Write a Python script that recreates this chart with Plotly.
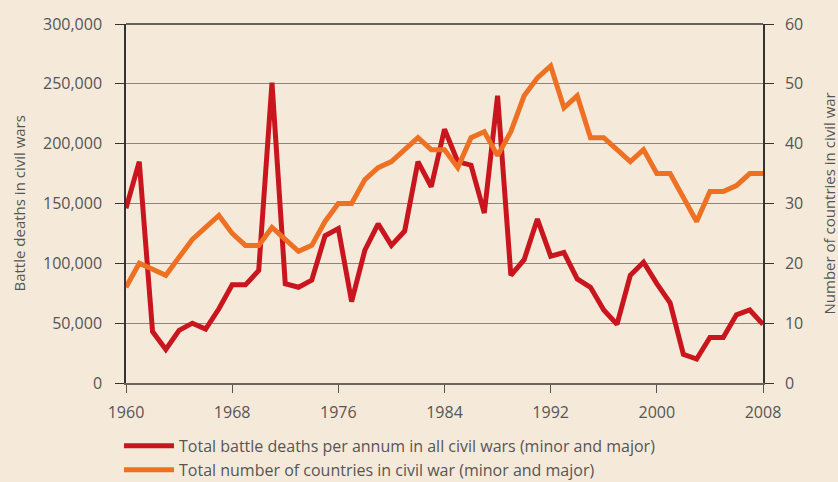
import plotly.graph_objects as go

years = list(range(1960, 2009))
battle_deaths = [146000, 185000, 43000, 28000, 44000, 50000, 45000, 62000, 82000, 82000,
                 94000, 251000, 83000, 80000, 86000, 123000, 129000, 68000, 111000, 133000,
                 115000, 127000, 185000, 164000, 212000, 185000, 182000, 142000, 240000, 90000,
                 103000, 137000, 106000, 109000, 87000, 80000, 61000, 49000, 90000, 101000,
                 83000, 67000, 24000, 20000, 38000, 38000, 57000, 61000, 49000]
countries = [16, 20, 19, 18, 21, 24, 26, 28, 25, 23,
             23, 26, 24, 22, 23, 27, 30, 30, 34, 36,
             37, 39, 41, 39, 39, 36, 41, 42, 38, 42,
             48, 51, 53, 46, 48, 41, 41, 39, 37, 39,
             35, 35, 31, 27, 32, 32, 33, 35, 35]
x_ticks = [1960, 1968, 1976, 1984, 1992, 2000, 2008]
left_ticks = [0, 50000, 100000, 150000, 200000, 250000, 300000]
right_ticks = [0, 10, 20, 30, 40, 50, 60]

name_red = "Total battle deaths per annum in all civil wars (minor and major)"
name_orange = "Total number of countries in civil war (minor and major)"
left_title = "Battle deaths in civil wars"
right_title = "Number of countries in civil war"

RED = "#C9161E"
ORANGE = "#EE7023"
BG = "#F5EADA"
TXT = "#555555"
FONT = "Open Sans"

fig = go.Figure()
fig.add_trace(go.Scatter(x=years, y=countries, yaxis="y2", mode="lines",
                         line=dict(color=ORANGE, width=5), name=name_orange,
                         legendrank=2))
fig.add_trace(go.Scatter(x=years, y=battle_deaths, yaxis="y", mode="lines",
                         line=dict(color=RED, width=5), name=name_red,
                         legendrank=1))

fig.update_layout(
    width=838, height=482,
    paper_bgcolor=BG, plot_bgcolor=BG,
    margin=dict(l=126, r=75, t=24, b=99, autoexpand=False),
    font=dict(family=FONT, color=TXT, size=16),
    xaxis=dict(range=[1960, 2008], tickvals=x_ticks, ticks="outside", ticklen=8,
               tickcolor="#555", showline=True, linecolor="#6b6560", linewidth=2,
               showgrid=False, zeroline=False, automargin=False,
               ticklabelstandoff=6,
               tickfont=dict(size=16, color=TXT)),
    yaxis=dict(range=[0, 300000], tickvals=left_ticks, tickformat=",d",
               ticks="outside", ticklen=9, tickcolor="#333",
               showline=True, linecolor="#333", linewidth=1.5,
               showgrid=True, gridcolor="#8c857c", gridwidth=1.2, zeroline=False,
               automargin=False, ticklabelstandoff=10,
               tickfont=dict(size=16, color=TXT)),
    yaxis2=dict(range=[0, 60], tickvals=right_ticks, overlaying="y", side="right",
                ticks="outside", ticklen=9, tickcolor="#333",
                showline=True, linecolor="#333", linewidth=1.5,
                showgrid=False, zeroline=False, automargin=False,
                ticklabelstandoff=8,
                tickfont=dict(size=16, color=TXT)),
    legend=dict(x=-0.011, xanchor="left", y=-0.128, yanchor="top", orientation="v",
                bgcolor="rgba(0,0,0,0)", font=dict(size=16, color=TXT),
                tracegroupgap=0, itemwidth=50),
    showlegend=True,
)
fig.add_annotation(text=left_title, xref="paper", yref="paper", x=(18 - 126) / 637, y=0.5,
                   xanchor="center", yanchor="middle", textangle=-90, showarrow=False,
                   font=dict(size=15, color=TXT))
fig.add_annotation(text=right_title, xref="paper", yref="paper", x=(828 - 126) / 637, y=0.5,
                   xanchor="center", yanchor="middle", textangle=-90, showarrow=False,
                   font=dict(size=15, color=TXT))
# top border line
fig.add_shape(type="line", xref="paper", yref="paper", x0=0, x1=1, y0=1, y1=1,
              line=dict(color="#333", width=1.5))

fig.write_html(
    "out.html",
    config={"displayModeBar": False},
    post_script="document.body.style.margin='0';document.body.style.background='#F5EADA';",
)
